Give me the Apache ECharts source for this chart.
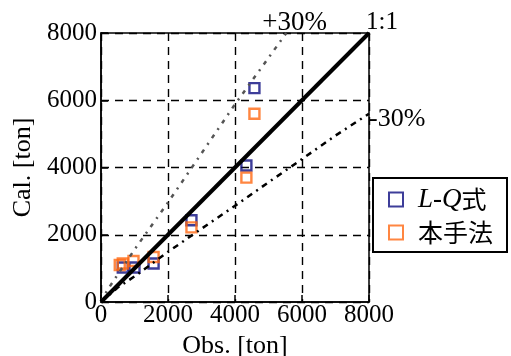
<!DOCTYPE html>
<html>
<head>
<meta charset="utf-8">
<script src="https://cdn.jsdelivr.net/npm/echarts@6/dist/echarts.min.js"></script>
<style>
  html, body { margin: 0; padding: 0; background: #fff; }
  #chart { width: 511px; height: 356px; }
</style>
</head>
<body>
<div id="chart"></div>
<script>
// 観測値 / 計算値 (L-Q式)
var lqObs = [4580, 4340, 2700, 1570, 1000, 650]
var lqCal = [6360, 4060, 2430, 1145, 1025, 1025]

// 本手法
var newObs = [4580, 4340, 2700, 1570, 970, 650, 560]
var newCal = [5600, 3700, 2220, 1340, 1220, 1145, 1100]

// reference lines
var oneX = [0, 8000]
var oneY = [0, 8000]
var plusX = [0, 200, 1000, 2000, 3000, 4000, 5000, 5530]
var plusY = [0, 370, 1560, 2960, 4420, 5880, 7260, 8000]
var minusX = [0, 500, 1000, 2000, 3000, 4000, 5000, 6000, 7000, 8000]
var minusY = [0, 430, 760, 1490, 2180, 2860, 3560, 4250, 4950, 5600]

function pairs (xs, ys) {
  return xs.map(function (x, i) { return [x, ys[i]] })
}

var serif = 'Liberation Serif'
var blue = '#0c0c80'
var orange = '#ff6812'

var chart = echarts.init(document.getElementById('chart'))

var axisCommon = {
  type: 'value',
  min: 0,
  max: 8000,
  interval: 2000,
  nameLocation: 'middle',
  nameTextStyle: { fontFamily: serif, fontSize: 26, color: '#000' },
  axisLine: { show: true, lineStyle: { color: '#000', width: 1.5 } },
  axisTick: { show: true, inside: true, length: 7, lineStyle: { color: '#000', width: 1.5 } },
  axisLabel: {
    fontFamily: serif,
    fontSize: 25,
    color: '#000',
    formatter: function (v) { return String(v) }
  },
  splitLine: { show: true, lineStyle: { color: '#000', width: 1.4, type: [8, 6] } }
}

chart.setOption({
  animation: false,
  grid: {
    left: 101, top: 33, right: 142, bottom: 54,
    outerBoundsMode: 'none',
    containLabel: false,
    show: true, borderColor: '#000', borderWidth: 1.5
  },
  xAxis: Object.assign({}, axisCommon, {
    name: 'Obs. [ton]',
    nameGap: 29,
    axisLabel: Object.assign({}, axisCommon.axisLabel, { margin: 1 })
  }),
  yAxis: Object.assign({}, axisCommon, {
    name: 'Cal. [ton]',
    nameGap: 61,
    axisLabel: Object.assign({}, axisCommon.axisLabel, { margin: 4 })
  }),
  legend: {
    left: 373,
    top: 178,
    orient: 'vertical',
    data: ['L-Q式', '本手法'],
    backgroundColor: '#fff',
    borderColor: '#000',
    borderWidth: 2,
    borderRadius: 0,
    padding: [8, 14, 7, 15],
    itemGap: 7,
    itemWidth: 14,
    itemHeight: 14,
    formatter: function (name) {
      return name === 'L-Q式' ? '{s|}{i|L-Q}{n|式}' : '{s|}{n|本手法}'
    },
    textStyle: {
      color: '#000',
      rich: {
        s: { width: 10 },
        i: { fontFamily: serif, fontStyle: 'italic', fontSize: 27, color: '#000' },
        n: { fontFamily: 'Noto Sans CJK JP', fontSize: 25, color: '#000' }
      }
    }
  },
  series: [
    {
      type: 'line',
      data: pairs(plusX, plusY),
      symbol: 'none',
      silent: true,
      lineStyle: { color: '#555', width: 2.5, type: [4, 6, 2, 6] },
      endLabel: {
        show: true,
        formatter: '+30%',
        fontFamily: serif,
        fontSize: 27,
        color: '#000',
        offset: [-32, -10]
      }
    },
    {
      type: 'line',
      data: pairs(minusX, minusY),
      symbol: 'none',
      silent: true,
      lineStyle: { color: '#000', width: 2.5, type: [6, 5, 2, 5] },
      endLabel: {
        show: true,
        formatter: '-30%',
        fontFamily: serif,
        fontSize: 26,
        color: '#000',
        distance: 0,
        offset: [0, 5]
      }
    },
    {
      type: 'line',
      data: pairs(oneX, oneY),
      symbol: 'none',
      silent: true,
      lineStyle: { color: '#000', width: 4 },
      endLabel: {
        show: true,
        formatter: '1:1',
        fontFamily: serif,
        fontSize: 25,
        color: '#000',
        distance: 0,
        offset: [-3, -11]
      }
    },
    {
      name: 'L-Q式',
      type: 'scatter',
      data: pairs(lqObs, lqCal),
      symbol: 'rect',
      symbolSize: 10,
      itemStyle: { color: 'rgba(255,255,255,0)', borderColor: blue, borderWidth: 2.4 }
    },
    {
      name: '本手法',
      type: 'scatter',
      data: pairs(newObs, newCal),
      symbol: 'rect',
      symbolSize: 10,
      itemStyle: { color: 'rgba(255,255,255,0)', borderColor: orange, borderWidth: 2.4 }
    }
  ]
})
</script>
</body>
</html>
